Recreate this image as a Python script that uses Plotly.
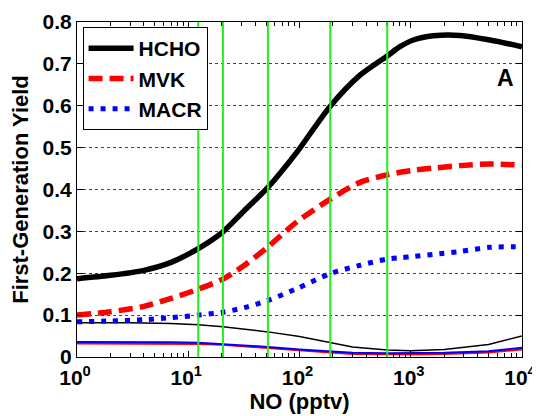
import plotly.graph_objects as go

# NO (pptv) sample points
no_main = [1, 2, 4, 7, 12.3, 20.5, 32, 52, 94, 189, 350, 615, 800, 1055, 1590, 2770, 5150, 10000]
hcho = [0.187, 0.195, 0.207, 0.226, 0.259, 0.299, 0.350, 0.405, 0.488, 0.599, 0.673, 0.719, 0.741, 0.757, 0.767,
        0.768, 0.757, 0.741]
mvk = [0.100, 0.108, 0.121, 0.140, 0.162, 0.186, 0.219, 0.263, 0.322, 0.377, 0.417, 0.435, 0.441, 0.446, 0.451,
       0.457, 0.461, 0.458]
macr = [0.084, 0.086, 0.089, 0.094, 0.100, 0.107, 0.118, 0.135, 0.163, 0.199, 0.219, 0.234, 0.237, 0.240, 0.245,
        0.252, 0.262, 0.263]

no_thin = [1, 3, 7, 12.3, 20.5, 52, 100, 189, 300, 615, 1000, 2000, 5000, 10000]
hcho_thin = [0.082, 0.082, 0.080, 0.077, 0.072, 0.060, 0.049, 0.034, 0.024, 0.017, 0.015, 0.018, 0.030, 0.050]
mvk_thin = [0.032, 0.032, 0.032, 0.031, 0.029, 0.022, 0.016, 0.011, 0.007, 0.006, 0.006, 0.007, 0.011, 0.018]
macr_thin = [0.036, 0.036, 0.035, 0.034, 0.031, 0.024, 0.018, 0.013, 0.010, 0.009, 0.009, 0.010, 0.014, 0.022]

green_no = [12.3, 20.5, 52, 189, 615]

x_tickvals = [1, 10, 100, 1000, 10000]
x_ticktext = ["10<sup>0</sup>", "10<sup>1</sup>", "10<sup>2</sup>", "10<sup>3</sup>", "10<sup>4</sup>"]
x_minor = [m * d for d in [1, 10, 100, 1000] for m in range(2, 10)]

FONT = "Liberation Sans, Arial, sans-serif"
TICKFONT = dict(family=FONT, size=21, color="black", weight="bold")

fig = go.Figure()

fig.add_trace(go.Scatter(x=no_thin, y=hcho_thin, mode="lines", line=dict(color="black", width=1.5), showlegend=False))
fig.add_trace(go.Scatter(x=no_thin, y=mvk_thin, mode="lines", line=dict(color="red", width=2), showlegend=False))
fig.add_trace(go.Scatter(x=no_thin, y=macr_thin, mode="lines", line=dict(color="blue", width=2), showlegend=False))

fig.add_trace(go.Scatter(x=no_main, y=hcho, mode="lines", name="HCHO",
                         line=dict(color="black", width=5.5, shape="spline", smoothing=0.8)))
fig.add_trace(go.Scatter(x=no_main, y=mvk, mode="lines", name="MVK",
                         line=dict(color="red", width=5.5, dash="14px,7px", shape="spline", smoothing=0.8)))
fig.add_trace(go.Scatter(x=no_main, y=macr, mode="lines", name="MACR",
                         line=dict(color="blue", width=5, dash="5px,7px", shape="spline", smoothing=0.8)))

for gx in green_no:
    fig.add_shape(type="line", x0=gx, x1=gx, y0=0, y1=1, xref="x", yref="paper",
                  line=dict(color="#22ee22", width=2), layer="above")

fig.add_annotation(text="A", x=0.962, y=0.833, xref="paper", yref="paper", showarrow=False,
                   xanchor="center", yanchor="middle",
                   font=dict(family=FONT, size=23, color="black", weight="bold"))

# page body has an 8px default margin, so the figure is sized/placed to compensate
fig.update_layout(
    template="none",
    width=532, height=408,
    margin=dict(l=69, r=18, t=14, b=59, pad=0),
    paper_bgcolor="white", plot_bgcolor="white",
    font=dict(family=FONT, size=21, color="black", weight="bold"),
    legend=dict(x=0.0125, y=0.985, xanchor="left", yanchor="top",
                bgcolor="white", bordercolor="black", borderwidth=1, itemwidth=45,
                font=dict(family=FONT, size=21, color="black", weight="bold"),
                tracegroupgap=0),
    xaxis=dict(type="log", range=[0, 4], tickvals=x_tickvals, ticktext=x_ticktext, tickfont=TICKFONT,
               automargin=False, ticklabelshift=-2, ticklabelstandoff=2,
               ticks="inside", ticklen=6, tickcolor="black", showline=True, linecolor="black",
               linewidth=1, mirror="allticks", showgrid=False, zeroline=False,
               minor=dict(tickvals=x_minor, ticks="inside", ticklen=4, tickcolor="black", showgrid=False),
               title=dict(text="NO (pptv)", standoff=5, font=dict(family=FONT, size=22, weight="bold"))),
    yaxis=dict(range=[0, 0.8], dtick=0.1, ticks="inside", ticklen=6, tickcolor="black", tickfont=TICKFONT,
               automargin=False,
               showline=True, linecolor="black", linewidth=1, mirror="allticks",
               showgrid=True, gridcolor="#444444", griddash="3px,3px", gridwidth=1,
               zeroline=False,
               title=dict(text="First-Generation Yield", standoff=12, font=dict(family=FONT, size=22, weight="bold"))),
)

fig.write_html("out.html")
